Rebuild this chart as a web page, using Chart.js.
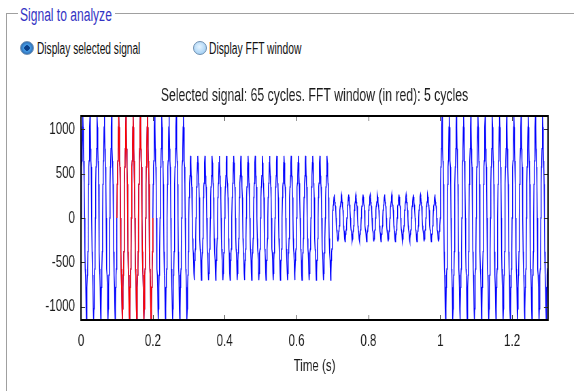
<!DOCTYPE html>
<html>
<head>
<meta charset="utf-8">
<script src="https://cdn.jsdelivr.net/npm/chart.js@4/dist/chart.umd.min.js"></script>
<style>
html, body { margin: 0; padding: 0; background: #fff; }
body { width: 574px; height: 391px; position: relative; overflow: hidden; font-family: "Liberation Sans", Arial, sans-serif; }
.txt { position: absolute; white-space: nowrap; transform-origin: 0 0; line-height: 20px; }
.frame-h { position: absolute; height: 1px; background: #a0a0a0; }
.frame-v { position: absolute; width: 1px; background: #a0a0a0; }
.radio { position: absolute; width: 12px; height: 12px; border-radius: 50%; border: 1px solid #6f8fb0; }
#wrap { position: absolute; left: 0; top: 0; width: 844px; height: 391px; transform: scaleX(0.68); transform-origin: 0 0; }
</style>
</head>
<body>
<!-- panel frame -->
<div class="frame-h" style="left:6px; top:13px; width:12px;"></div>
<div class="frame-h" style="left:115px; top:13px; width:459px;"></div>
<div class="frame-v" style="left:6px; top:13px; height:378px;"></div>
<div class="txt" style="left:20px; top:5px; font-size:18px; color:#3434c4; transform:scaleX(0.67);">Signal to analyze</div>

<!-- radio buttons -->
<div class="radio" style="left:20px; top:41px; background:radial-gradient(circle, #0a3f8a 0 2.5px, #4aa0e8 3px, #2d6fb8 6px);"></div>
<div class="txt" style="left:37px; top:39px; font-size:16px; color:#111; transform:scaleX(0.635);">Display selected signal</div>
<div class="radio" style="left:193px; top:41px; background:radial-gradient(circle at 45% 40%, #e6f4ff 0, #a9d3f5 70%, #7fb4e0 100%);"></div>
<div class="txt" style="left:209px; top:39px; font-size:16px; color:#111; transform:scaleX(0.643);">Display FFT window</div>

<div id="wrap"><canvas id="chart" width="844" height="391"></canvas></div>

<script>
// Horizontal squeeze of the original screenshot
const SQUASH = 0.68;

// Signal description: 50 Hz, four amplitude segments
const segCycles = [15, 20, 15, 15];
const segAmps = [1150, 700, 265, 1150];
const cyclePeriod = 0.02;
// one cycle of the distorted waveform, normalised (24 samples)
const cycleShape = [0, 0.33, 0.5, 0.56, 0.68, 0.89, 1, 0.89, 0.68, 0.56, 0.5, 0.33,
                    0, -0.33, -0.5, -0.56, -0.68, -0.89, -1, -0.89, -0.68, -0.56, -0.5, -0.33];

// FFT window (red) in seconds
const fftStart = 0.1;
const fftEnd = 0.2;

// axis ticks
const xTicks = [0, 0.2, 0.4, 0.6, 0.8, 1, 1.2];
const yTicks = [-1000, -500, 0, 500, 1000];

// Build the sampled signal from the segments
let signal = [];
let cycleIndex = 0;
for (let s = 0; s < segCycles.length; s++)
{
    for (let c = 0; c < segCycles[s]; c++)
    {
        for (let k = 0; k < cycleShape.length; k++)
        {
            let t = +((cycleIndex + k / cycleShape.length) * cyclePeriod).toFixed(6);
            signal.push({ x: t, y: segAmps[s] * cycleShape[k] });
        }
        cycleIndex++;
    }
}
signal.push({ x: +(cycleIndex * cyclePeriod).toFixed(6), y: 0 });

let fftWindow = signal.filter(p => p.x >= fftStart - 1e-9 && p.x <= fftEnd + 1e-9);

// Draws the box around the axes and the inward MATLAB-style ticks
const boxTicks = {
    id: "boxTicks",
    afterDatasetsDraw(chart)
    {
        let { ctx, chartArea: a, scales: { x, y } } = chart;
        ctx.save();
        ctx.strokeStyle = "#333";
        ctx.lineWidth = 1;
        ctx.beginPath();
        for (let v of xTicks)
        {
            let px = Math.round(x.getPixelForValue(v)) + 0.5;
            ctx.moveTo(px, a.bottom); ctx.lineTo(px, a.bottom - 5);
            ctx.moveTo(px, a.top); ctx.lineTo(px, a.top + 5);
        }
        for (let v of yTicks)
        {
            let py = Math.round(y.getPixelForValue(v)) + 0.5;
            ctx.moveTo(a.left, py); ctx.lineTo(a.left + 6, py);
            ctx.moveTo(a.right, py); ctx.lineTo(a.right - 6, py);
        }
        ctx.stroke();
        ctx.strokeStyle = "#000";
        ctx.lineWidth = 2;
        ctx.strokeRect(a.left, a.top, a.right - a.left, a.bottom - a.top);
        ctx.restore();
    }
};

new Chart(document.getElementById("chart"),
{
    type: "line",
    data:
    {
        datasets: [
            { data: fftWindow, borderColor: "#ff0000", borderWidth: 1.5, pointRadius: 0, tension: 0 },
            { data: signal, borderColor: "#0000ff", borderWidth: 1.4, pointRadius: 0, tension: 0 }
        ]
    },
    options:
    {
        responsive: false,
        animation: false,
        events: [],
        layout: { padding: { top: 70, right: 844 - 548 / SQUASH, bottom: 0, left: 0 } },
        plugins:
        {
            legend: { display: false },
            tooltip: { enabled: false },
            title:
            {
                display: true,
                fullSize: false,
                text: "Selected signal: 65 cycles. FFT window (in red): 5 cycles",
                color: "#1a1a1a",
                font: { family: "'Liberation Sans', Arial, sans-serif", size: 18, weight: "normal" },
                padding: { top: 15.7, bottom: 8.7 }
            }
        },
        scales:
        {
            x:
            {
                type: "linear",
                min: 0,
                max: 1.3,
                border: { display: false },
                grid: { display: false, drawTicks: false },
                afterBuildTicks: (scale) => { scale.ticks = xTicks.map(v => ({ value: v })); },
                afterFit: (scale) => { scale.height = 71; },
                ticks:
                {
                    padding: 11.5,
                    maxRotation: 0,
                    color: "#1a1a1a",
                    font: { family: "'Liberation Sans', Arial, sans-serif", size: 17 },
                    callback: (v) => String(v)
                },
                title:
                {
                    display: true,
                    text: "Time (s)",
                    color: "#1a1a1a",
                    font: { family: "'Liberation Sans', Arial, sans-serif", size: 17 },
                    padding: { top: 0, bottom: 14.2 }
                }
            },
            y:
            {
                min: -1150,
                max: 1150,
                border: { display: false },
                grid: { display: false, drawTicks: false },
                afterBuildTicks: (scale) => { scale.ticks = yTicks.map(v => ({ value: v })); },
                afterFit: (scale) => { scale.width = 81 / SQUASH; },
                ticks:
                {
                    padding: 8.8,
                    color: "#1a1a1a",
                    font: { family: "'Liberation Sans', Arial, sans-serif", size: 17 },
                    callback: (v) => String(v)
                }
            }
        }
    },
    plugins: [boxTicks]
});
</script>
</body>
</html>
